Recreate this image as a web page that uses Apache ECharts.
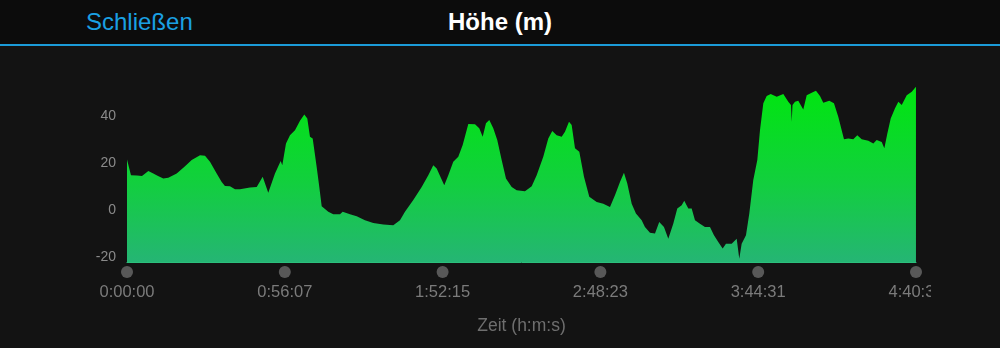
<!DOCTYPE html>
<html><head><meta charset="utf-8">
<script src="https://cdn.jsdelivr.net/npm/echarts@6/dist/echarts.min.js"></script>
<style>
html,body{margin:0;padding:0;background:#131313;width:1000px;height:348px;overflow:hidden;}
#hdr{position:absolute;left:0;top:0;width:1000px;height:44px;background:#0c0c0c;border-bottom:2px solid #1b9bd8;}
#back{position:absolute;left:86px;top:8px;font:24px "Liberation Sans",Arial,sans-serif;color:#1aa0e3;}
#ttl{position:absolute;left:0;width:1000px;top:8px;text-align:center;font:bold 24px "Liberation Sans",Arial,sans-serif;color:#ffffff;}
#chart{position:absolute;left:0;top:0;width:931px;height:348px;}
</style>
</head><body>
<div id="hdr"><div id="back">Schließen</div><div id="ttl">Höhe (m)</div></div>
<div id="chart"></div>
<script>
// elapsed time (seconds)
const times = [0,85,213,320,455,561,662,775,881,1061,1238,1381,1558,1665,1771,1914,2021,2091,2198,2305,2411,2625,2768,2802,2896,3015,3158,3280,3314,3393,3478,3585,3692,3784,3848,3905,3963,4048,4104,4155,4296,4403,4546,4603,4759,4902,5079,5256,5470,5683,5826,5932,6110,6289,6430,6537,6609,6771,6857,6963,7070,7164,7284,7427,7518,7591,7661,7732,7817,7902,7996,8088,8210,8316,8494,8637,8743,8884,8991,9076,9170,9277,9347,9433,9490,9561,9653,9753,9866,10024,10165,10308,10414,10521,10606,10677,10771,10862,10984,11054,11161,11268,11359,11460,11552,11658,11744,11838,11893,11979,12051,12122,12228,12335,12442,12527,12619,12713,12783,12905,13012,13067,13118,13210,13281,13366,13452,13509,13580,13652,13738,13866,14007,14113,14171,14186,14203,14256,14326,14433,14506,14612,14704,14790,14860,14988,15088,15180,15253,15302,15394,15500,15586,15680,15821,15928,16000,16107,16163,16227,16299,16391,16462,16534,16641,16748,16838];
// elevation (m)
const elevation = [21.6,14.9,14.8,14.5,16.7,15.6,14.5,13.5,13.8,15.6,18.7,21.3,23.4,23.1,20.6,15.6,12,10.3,10.2,8.9,8.9,9.7,9.9,10,14.2,7.4,15.6,20.9,19.1,28.4,31.9,34,38,40.7,39,31.2,30.5,18.4,9.9,1.7,-0.7,-1.7,-1.7,-0.7,-1.7,-2.6,-4.3,-5.4,-6.1,-6.4,-4.3,-0.7,4.3,9.9,14.9,19.1,17.7,10.6,14.9,20.6,22.7,27.7,36.6,36.5,34.8,31.2,36.9,38.3,34.8,29.8,21.3,13.5,9.9,8.5,8.1,10.2,14.9,22.7,30.5,33.7,31.9,31.2,33.3,37.6,36.2,26.3,24.8,14.2,5.7,3.5,2.8,1.4,6.4,12,15.9,11.3,2.8,-1.4,-4.3,-7.1,-9.6,-9.9,-5,-7.1,-12.1,-5.7,0.7,2.1,4.0,0.7,0.7,-4.3,-5.7,-7.1,-7.1,-10.6,-13.5,-16.3,-14.2,-14.2,-12.1,-20.6,-14.2,-10.6,-1.4,12.8,21.3,34,45.4,48.5,49.4,48.2,49.4,46.1,44.7,37.6,44.7,46.1,46.5,42.8,48.9,49.9,50.8,48.5,45.7,46.5,45.4,39.7,34,30.1,30.5,30.1,31.9,30.1,29.5,28.4,29.8,29,26.3,32.6,39,43.3,46.1,44.7,48.9,50.3,52.5];
const xTickLabels = ['0:00:00','0:56:07','1:52:15','2:48:23','3:44:31','4:40:38'];
const xInterval = 3367.75;
const xMax = 16838.75;
const yLabels = [-20,0,20,40];
const yMin = -22, yMax = 60;

const seriesData = times.map((t,i)=>[t, elevation[i]]);
const tickDots = xTickLabels.map((_, i)=>[i*xInterval, 0]);

const chart = echarts.init(document.getElementById('chart'), null, {renderer:'canvas'});
const grad = new echarts.graphic.LinearGradient(0, 86, 0, 262, [
  {offset:0, color:'#00e60f'},
  {offset:0.55, color:'#12cf3e'},
  {offset:1, color:'#25b574'}
], true);
chart.setOption({
  animation:false,
  backgroundColor:'transparent',
  grid:[
    {left:127, right:15, top:69, bottom:86, outerBoundsMode:'none', containLabel:false},
    {left:127, right:15, top:266, height:12, outerBoundsMode:'none', containLabel:false}
  ],
  xAxis:[
    {gridIndex:0, type:'value', min:0, max:xMax, interval:xInterval,
     axisLine:{show:true, onZero:false, lineStyle:{color:'#2cbf7c', width:1}}, axisTick:{show:false},
     axisLabel:{show:false}, splitLine:{show:false}},
    {gridIndex:1, type:'value', min:0, max:xMax, interval:xInterval,
     axisLine:{show:false}, axisTick:{show:false}, splitLine:{show:false},
     axisLabel:{show:true, margin:6, color:'#7b7b7b', fontSize:16.5, fontFamily:'Liberation Sans',
       showMinLabel:true, showMaxLabel:true,
       formatter:(v)=>xTickLabels[Math.round(v/xInterval)]},
     name:'Zeit (h:m:s)', nameLocation:'middle', nameGap:39,
     nameTextStyle:{color:'#6e6e6e', fontSize:17.5, fontFamily:'Liberation Sans'}}
  ],
  yAxis:[
    {gridIndex:0, type:'value', min:yMin, max:yMax,
     axisLine:{show:false}, axisTick:{show:false}, splitLine:{show:false},
     axisLabel:{show:true, customValues:yLabels, margin:11, color:'#8a8a8a', fontSize:14, fontFamily:'Liberation Sans'}},
    {gridIndex:1, type:'value', min:-1, max:1, show:false}
  ],
  series:[
    {type:'line', xAxisIndex:0, yAxisIndex:0, data:seriesData, showSymbol:false, symbol:'none',
     lineStyle:{width:0}, areaStyle:{color:grad, opacity:1, origin:'start'}, silent:true},
    {type:'scatter', xAxisIndex:1, yAxisIndex:1, data:tickDots, symbol:'circle', symbolSize:12,
     itemStyle:{color:'#6a6a6a'}, silent:true, clip:false}
  ]
});
</script>
</body></html>
